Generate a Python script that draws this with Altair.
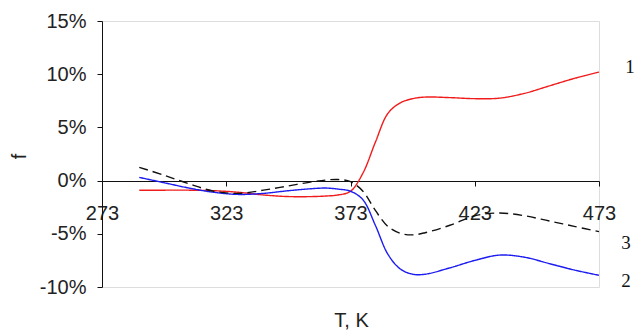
import altair as alt
import pandas as pd

# Temperature grid, K
temps = [288, 298, 308, 318, 328, 338, 348, 358, 363, 368, 373, 378,
         383, 388, 393, 398, 403, 413, 423, 433, 443, 453, 463, 473]

# Relative deviation f for each curve, in percent
curve_1 = [-0.9, -0.9, -0.9, -0.95, -1.1, -1.35, -1.5, -1.5, -1.45, -1.35, -1.0, 0.7,
           3.6, 6.3, 7.3, 7.7, 7.85, 7.8, 7.7, 7.75, 8.2, 8.9, 9.6, 10.2]
curve_2 = [0.3, -0.2, -0.7, -1.1, -1.3, -1.2, -0.95, -0.75, -0.7, -0.8, -1.0, -1.8,
           -4.2, -6.9, -8.3, -8.8, -8.8, -8.2, -7.5, -7.0, -7.2, -7.8, -8.4, -8.9]
curve_3 = [1.25, 0.5, -0.3, -1.0, -1.2, -0.9, -0.5, -0.1, 0.05, 0.1, -0.1, -1.0,
           -2.8, -4.3, -4.95, -5.1, -4.9, -4.2, -3.3, -3.05, -3.3, -3.8, -4.3, -4.8]

series_names = ["1", "2", "3"]
x_ticks = [273, 323, 373, 423, 473]
y_ticks = [-0.10, -0.05, 0.0, 0.05, 0.10, 0.15]

rows = []
for name, vals in zip(series_names, [curve_1, curve_2, curve_3]):
    for t, v in zip(temps, vals):
        rows.append({"T": t, "f": v / 100.0, "series": name})
df = pd.DataFrame(rows)

ends = df[df["T"] == temps[-1]].reset_index(drop=True)

FONT = "Liberation Sans"

x_enc = alt.X(
    "T:Q",
    scale=alt.Scale(domain=[273, 473], nice=False, zero=False),
    axis=alt.Axis(
        values=x_ticks, format="d", offset=-106, tickSize=5,
        labelPadding=17, labelFont=FONT, labelFontSize=20, labelColor="#222",
        labelFlush=False, labelOverlap=False,
        domainColor="#111", tickColor="#111", grid=False,
        title="T, K", titleFont=FONT, titleFontSize=20, titleFontWeight="normal",
        titleColor="#222", titleBaseline="top", titleY=129, titleX=249,
        titleAlign="center",
    ),
)
y_enc = alt.Y(
    "f:Q",
    scale=alt.Scale(domain=[-0.10, 0.15], nice=False, zero=False),
    axis=alt.Axis(
        values=y_ticks, labelExpr="round(datum.value * 100) + '%'",
        tickSize=5, labelPadding=11, labelFont=FONT, labelFontSize=20,
        labelColor="#222", labelFlush=False, domainColor="#111", tickColor="#111",
        grid=False,
        title="f", titleFont=FONT, titleFontSize=20, titleFontWeight="normal",
        titleColor="#222", titleAngle=270, titleBaseline="middle",
        titleAlign="center", titleX=-83, titleY=135,
    ),
)

lines = alt.Chart(df).mark_line(interpolate="catmull-rom").encode(
    x=x_enc,
    y=y_enc,
    color=alt.Color("series:N", scale=alt.Scale(domain=series_names,
                    range=["#f01c1c", "#1c1cf0", "#111111"]), legend=None),
    strokeDash=alt.StrokeDash("series:N", scale=alt.Scale(domain=series_names,
                              range=[[1, 0], [1, 0], [9, 5]]), legend=None),
    strokeWidth=alt.StrokeWidth("series:N", scale=alt.Scale(domain=series_names,
                                range=[1.4, 1.4, 2.0]), legend=None),
    detail="series:N",
)

# Curve numbers placed to the right of each curve's end
offsets = {"1": (31, -5), "2": (27, 6), "3": (27, 11)}
labels = []
for name in series_names:
    dx, dy = offsets[name]
    labels.append(
        alt.Chart(ends).transform_filter(alt.datum.series == name)
        .mark_text(font="Liberation Serif", fontSize=19, color="#111",
                   dx=dx, dy=dy, align="center", baseline="middle")
        .encode(x="T:Q", y="f:Q", text="series:N")
    )

chart = alt.layer(lines, *labels).properties(
    width=497, height=266,
    autosize=alt.AutoSizeParams(type="none"),
    padding={"left": 102, "top": 21, "right": 35, "bottom": 43},
).configure_view(stroke=None).configure(background="white")

chart.save("out.html", embed_options={"renderer": "svg", "actions": False})
